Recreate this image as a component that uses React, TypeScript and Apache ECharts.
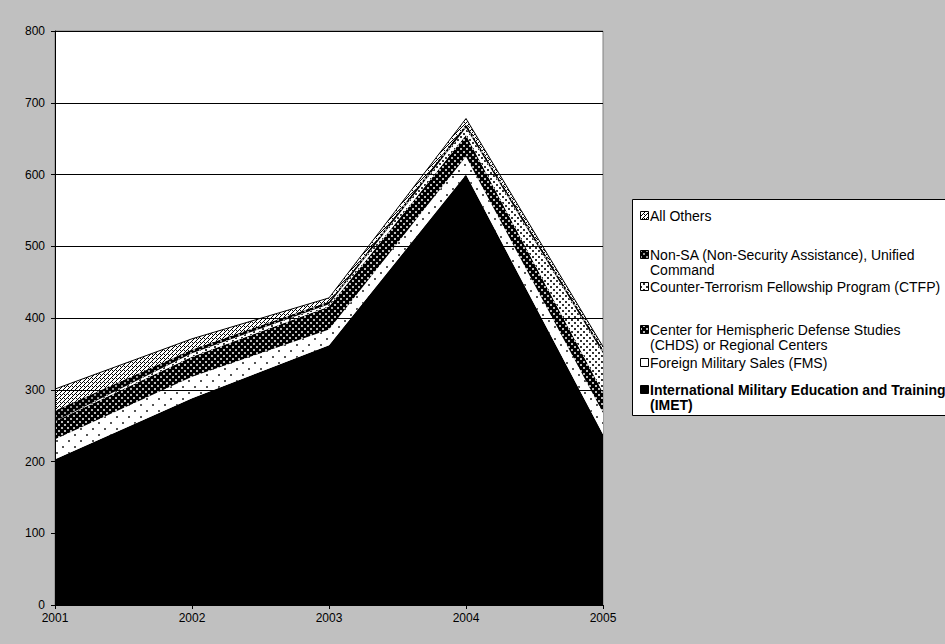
import React, { useEffect, useRef } from "react";
import * as echarts from "echarts";

const years = ["2001", "2002", "2003", "2004", "2005"];
const imet = [203, 288, 362, 600, 238];
const fms = [28, 30, 22, 25, 30];
const chds = [25, 28, 32, 30, 28];
const ctfp = [0, 5, 3, 10, 55];
const nonSa = [15, 5, 4, 5, 5];
const allOthers = [30, 15, 5, 8, 4];

const seriesNames = [
  "International Military Education and Training (IMET)",
  "Foreign Military Sales (FMS)",
  "Center for Hemispheric Defense Studies (CHDS) or Regional Centers",
  "Counter-Terrorism Fellowship Program (CTFP)",
  "Non-SA (Non-Security Assistance), Unified Command",
  "All Others",
];

function makePattern(kind: string): any {
  if (kind === "solid") return "#000";
  const c = document.createElement("canvas");
  let s = 6;
  if (kind === "fms") s = 12;
  if (kind === "hatch") s = 4;
  c.width = s;
  c.height = s;
  const g = c.getContext("2d")!;
  if (kind === "fms") {
    g.fillStyle = "#fff";
    g.fillRect(0, 0, s, s);
    g.fillStyle = "#555";
    g.fillRect(2, 2, 2, 2);
    g.fillRect(8, 8, 2, 2);
  } else if (kind === "chds" || kind === "nonsa") {
    g.fillStyle = "#000";
    g.fillRect(0, 0, s, s);
    g.fillStyle = kind === "chds" ? "#bbb" : "#999";
    g.fillRect(1, 1, 2, 2);
    g.fillRect(4, 4, 2, 2);
  } else if (kind === "ctfp") {
    g.fillStyle = "#fff";
    g.fillRect(0, 0, s, s);
    g.fillStyle = "#333";
    g.fillRect(1, 1, 2, 2);
    g.fillRect(4, 4, 2, 2);
  } else if (kind === "hatch") {
    g.fillStyle = "#fff";
    g.fillRect(0, 0, s, s);
    g.fillStyle = "#000";
    g.fillRect(0, 0, 1, 1);
    g.fillRect(2, 2, 1, 1);
    g.fillRect(1, 3, 1, 1);
    g.fillRect(3, 1, 1, 1);
    g.fillRect(0, 2, 1, 1);
  }
  return { image: c, repeat: "repeat" };
}

export default function App() {
  const ref = useRef<HTMLDivElement>(null);
  useEffect(() => {
    if (!ref.current) return;
    const chart = echarts.init(ref.current, undefined, { renderer: "svg" });
    const fills = [
      makePattern("solid"),
      makePattern("fms"),
      makePattern("chds"),
      makePattern("ctfp"),
      makePattern("nonsa"),
      makePattern("hatch"),
    ];
    const dataSets = [imet, fms, chds, ctfp, nonSa, allOthers];
    const series = dataSets.map((d, i) => ({
      name: seriesNames[i],
      type: "line",
      stack: "total",
      data: d,
      symbol: "none",
      lineStyle: { width: i === 5 ? 1 : 0, color: "#000" },
      areaStyle: { color: fills[i], opacity: 1 },
      silent: true,
    }));

    const legendItems = [
      { label: "All Others", y: 216, fill: fills[5], bold: false },
      { label: "Non-SA (Non-Security Assistance), Unified\nCommand", y: 255, fill: fills[4], bold: false },
      { label: "Counter-Terrorism Fellowship Program (CTFP)", y: 287, fill: fills[3], bold: false },
      { label: "Center for Hemispheric Defense Studies\n(CHDS) or Regional Centers", y: 330, fill: fills[2], bold: false },
      { label: "Foreign Military Sales (FMS)", y: 363, fill: fills[1], bold: false },
      { label: "International Military Education and Training\n(IMET)", y: 390, fill: fills[0], bold: true },
    ];

    const graphic: any[] = [
      {
        type: "rect",
        shape: { x: 632.5, y: 199.5, width: 330, height: 216 },
        style: { fill: "#fff", stroke: "#000", lineWidth: 1 },
        z: 10,
      },
    ];
    legendItems.forEach((it) => {
      graphic.push({
        type: "rect",
        shape: { x: 640.5, y: it.y - 4.5, width: 8, height: 8 },
        style: { fill: it.fill, stroke: "#000", lineWidth: 1 },
        z: 11,
      });
      graphic.push({
        type: "text",
        x: 650,
        y: it.y - 8,
        style: {
          text: it.label,
          fill: "#000",
          font: `${it.bold ? "bold " : ""}14px "Liberation Sans", Arial, sans-serif`,
          lineHeight: 15.5,
          verticalAlign: "top",
        },
        z: 11,
      });
    });

    chart.setOption({
      animation: false,
      backgroundColor: "#c0c0c0",
      grid: {
        left: 55,
        top: 31,
        right: 342,
        bottom: 39,
        show: true,
        backgroundColor: "#fff",
        borderColor: "#808080",
        borderWidth: 1,
      },
      xAxis: {
        type: "category",
        data: years,
        boundaryGap: false,
        axisLine: { lineStyle: { color: "#000", width: 1 } },
        axisTick: { show: true, inside: false, length: 4, lineStyle: { color: "#000" } },
        axisLabel: {
          color: "#000",
          fontSize: 12,
          fontFamily: "Liberation Sans, Arial, sans-serif",
          margin: 7,
        },
        z: 5,
      },
      yAxis: {
        type: "value",
        min: 0,
        max: 800,
        interval: 100,
        axisLine: { show: true, lineStyle: { color: "#000", width: 1 } },
        axisTick: { show: true, length: 4, lineStyle: { color: "#000" } },
        axisLabel: {
          color: "#000",
          fontSize: 12,
          fontFamily: "Liberation Sans, Arial, sans-serif",
          margin: 10,
        },
        splitLine: { show: true, lineStyle: { color: "#000", width: 1 } },
        z: 5,
      },
      series,
      graphic,
    });
    return () => chart.dispose();
  }, []);
  return (
    <div
      ref={ref}
      style={{ position: "fixed", left: 0, top: 0, width: 945, height: 644 }}
    />
  );
}
